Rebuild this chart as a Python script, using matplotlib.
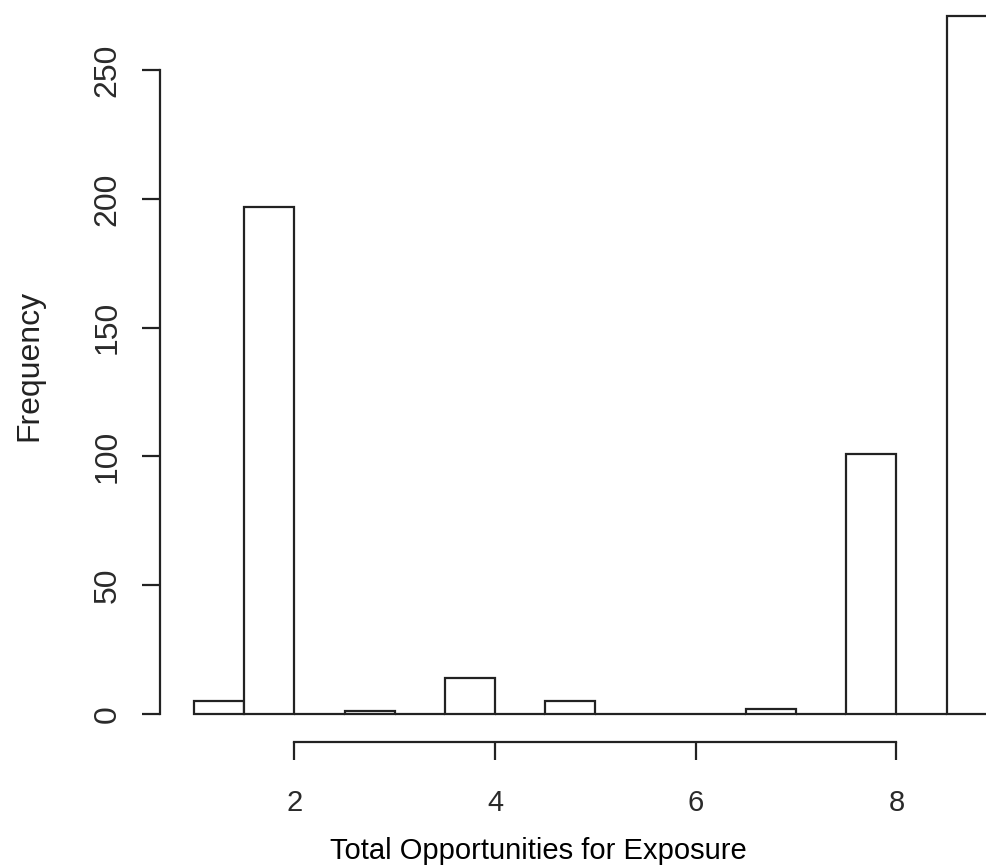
import matplotlib
matplotlib.use('Agg')
import matplotlib.pyplot as plt
import numpy as np

# Histograma no estilo R (hist) - bins de largura 0.5
bin_edges = [1.0, 1.5, 2.0, 2.5, 3.0, 3.5, 4.0, 4.5, 5.0, 5.5, 6.0, 6.5, 7.0, 7.5, 8.0, 8.5, 9.0, 9.5]
counts = [5, 197, 0, 1, 0, 14, 0, 5, 0, 0, 0, 2, 0, 101, 0, 271, 0]
x_ticks = [2, 4, 6, 8]
y_ticks = [0, 50, 100, 150, 200, 250]
x_label = 'Total Opportunities for Exposure'
y_label = 'Frequency'

plt.rcParams['font.family'] = ['Liberation Sans', 'DejaVu Sans']

W, H = 987, 865
fig = plt.figure(figsize=(W / 100, H / 100), dpi=100)

# limites no estilo R (4% de folga)
x_lo, x_hi = bin_edges[0], bin_edges[-1]
y_hi = max(counts)
xlim = (x_lo - 0.04 * (x_hi - x_lo), x_hi + 0.04 * (x_hi - x_lo))
ylim = (-0.04 * y_hi, y_hi * 1.04)

# posição dos eixos em pixels (parte do gráfico fica fora da imagem, como no original)
left_px, right_px = 160, 1081
bottom_px, top_px = 742, -12
ax_w, ax_h = right_px - left_px, bottom_px - top_px
ax = fig.add_axes([left_px / W, (H - bottom_px) / H, ax_w / W, ax_h / H])
ax.set_xlim(xlim)
ax.set_ylim(ylim)

widths = np.diff(bin_edges)
ax.bar(bin_edges[:-1], counts, width=widths, align='edge',
       facecolor='white', edgecolor='#222222', linewidth=1.6)

for s in ['top', 'right']:
    ax.spines[s].set_visible(False)
for s in ['left', 'bottom']:
    ax.spines[s].set_linewidth(1.6)
    ax.spines[s].set_color('#222222')
ax.spines['left'].set_bounds(y_ticks[0], y_ticks[-1])
ax.spines['bottom'].set_bounds(x_ticks[0], x_ticks[-1])

ax.set_xticks(x_ticks)
ax.set_yticks(y_ticks)
ax.tick_params(direction='out', length=13, width=1.6, color='#222222',
               labelcolor='#2a2a2a')
ax.tick_params(axis='x', labelsize=21, pad=21)
ax.tick_params(axis='y', labelsize=23, pad=14)
for lab in ax.get_yticklabels():
    lab.set_rotation(90)
    lab.set_va('center')

ax.set_xlabel(x_label, fontsize=21, color='black', va='baseline')
ax.xaxis.set_label_coords((538 - left_px) / ax_w, -(859 - bottom_px) / ax_h)
ax.set_ylabel(y_label, fontsize=23, color='#222222', va='center')
ax.yaxis.set_label_coords((29 - left_px) / ax_w, (bottom_px - 365) / ax_h)

fig.savefig('out.png', dpi=100, facecolor='white')
